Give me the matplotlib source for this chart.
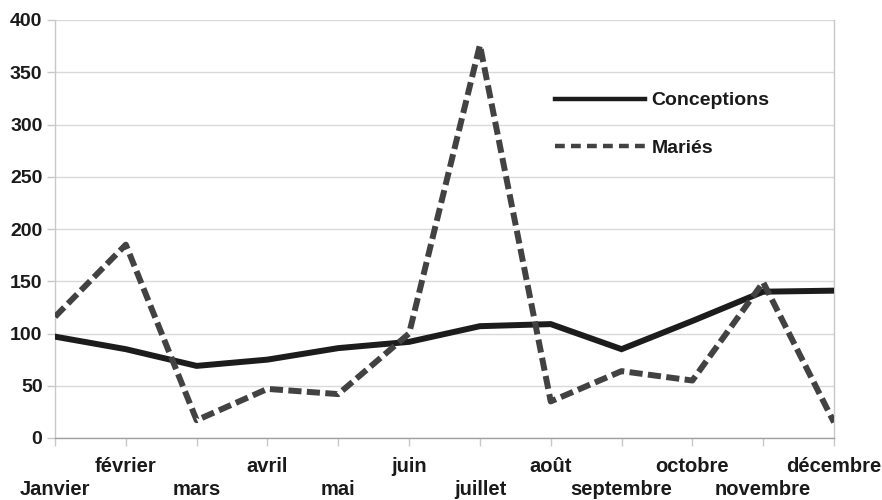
import matplotlib
matplotlib.use("Agg")
import matplotlib.pyplot as plt

months = ["Janvier", "février", "mars", "avril", "mai", "juin",
          "juillet", "août", "septembre", "octobre", "novembre", "décembre"]
conceptions = [97, 85, 69, 75, 86, 92, 107, 109, 85, 112, 140, 141]
maries = [116, 185, 17, 47, 42, 100, 376, 35, 64, 55, 149, 15]
y_ticks = [0, 50, 100, 150, 200, 250, 300, 350, 400]

plt.rcParams["font.family"] = ["Liberation Sans", "DejaVu Sans"]
plt.rcParams["font.weight"] = "bold"

fig = plt.figure(figsize=(8.82, 5.0), dpi=100)
ax = fig.add_axes([55 / 882, 62 / 500, (834 - 55) / 882, (438 - 20) / 500])

x = list(range(len(months)))
ax.plot(x, conceptions, color="#1c1c1c", lw=4.3, solid_joinstyle="miter",
        label="Conceptions", zorder=3)
ax.plot(x, maries, color="#424242", lw=4.3, dashes=(2.2, 0.9),
        dash_capstyle="butt", label="Mariés", zorder=3)

ax.set_xlim(0, len(months) - 1)
ax.set_ylim(0, 400)
ax.set_yticks(y_ticks)
ax.set_yticklabels([str(v) for v in y_ticks], fontsize=14, fontweight="bold",
                   color="#1a1a1a")

# Month names on two staggered rows: odd months on the upper row (major
# ticks), even months on the lower row (minor ticks).
upper = x[1::2]
lower = x[0::2]
ax.set_xticks(upper, [months[i] for i in upper])
ax.set_xticks(lower, [months[i] for i in lower], minor=True)
for lab in ax.get_xticklabels(which="both"):
    lab.set_fontsize(14.5)
    lab.set_fontweight("bold")
    lab.set_color("#1a1a1a")

ax.grid(axis="y", color="#d9d9d9", lw=1)
ax.set_axisbelow(True)
for side in ["left", "right", "bottom", "top"]:
    ax.spines[side].set_color("#c8c8c8")
    ax.spines[side].set_linewidth(1)
ax.spines["top"].set_visible(False)
ax.spines["bottom"].set_color("#a0a0a0")
ax.tick_params(axis="y", length=6, width=1, color="#c8c8c8", pad=3)
ax.tick_params(axis="x", which="major", length=6, width=1, color="#c8c8c8",
               pad=8)
ax.tick_params(axis="x", which="minor", length=6, width=1, color="#c8c8c8",
               pad=24)

leg = ax.legend(loc="upper left", bbox_to_anchor=(0.62, 0.87), frameon=False,
                fontsize=14, handlelength=4.6, handletextpad=0.35,
                labelspacing=1.52)
for t in leg.get_texts():
    t.set_fontweight("bold")
    t.set_color("#1a1a1a")
handles = leg.get_lines()
handles[0].set_linewidth(3.2)
handles[1].set_linewidth(3.2)
handles[1].set_dashes((2.2, 1.4))

fig.savefig("out.png", dpi=100)
